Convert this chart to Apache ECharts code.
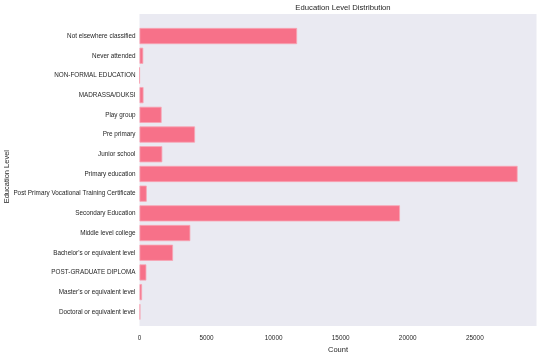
<!DOCTYPE html>
<html><head><meta charset="utf-8">
<script src="https://cdn.jsdelivr.net/npm/echarts@6/dist/echarts.min.js"></script>
<style>html,body{margin:0;padding:0;background:#fff}#c{width:541px;height:359px}</style>
</head><body><div id="c"></div>
<script>
const categories = ["Not elsewhere classified","Never attended","NON-FORMAL EDUCATION","MADRASSA/DUKSI","Play group","Pre primary","Junior school","Primary education","Post Primary Vocational Training Certificate","Secondary Education","Middle level college","Bachelor's or equivalent level","POST-GRADUATE DIPLOMA","Master's or equivalent level","Doctoral or equivalent level"];
const counts = [11750, 280, 10, 300, 1650, 4140, 1700, 28190, 540, 19420, 3790, 2500, 510, 190, 60];
const xMax = 29600;
const xTicks = [0, 5000, 10000, 15000, 20000, 25000];

const F = 'Liberation Sans, Arial, sans-serif';
const chart = echarts.init(document.getElementById('c'), null, {renderer:'canvas'});
chart.setOption({
  animation:false,
  title:{text:'Education Level Distribution', left:338, top:-1, textAlign:'center',
    textStyle:{fontFamily:F, fontSize:7.7, fontWeight:'normal', color:'#262626'}},
  grid:[
    {left:139.5, top:14, width:397, height:320, show:true, backgroundColor:'#EAEAF2', borderWidth:0},
    {left:139.5, top:26.2, width:397, height:295.5, show:false}
  ],
  xAxis:[
    {gridIndex:0, type:'value', min:0, max:xMax, interval:5000,
      axisLine:{show:false}, axisTick:{show:false}, splitLine:{show:false},
      axisLabel:{fontFamily:F, fontSize:6.4, color:'#262626', margin:9,
        formatter:v=> xTicks.includes(v)? String(v):''},
      name:'Count', nameLocation:'middle', nameGap:16,
      nameTextStyle:{fontFamily:F, fontSize:7.5, color:'#262626'}},
    {gridIndex:1, type:'value', min:0, max:xMax, show:false}
  ],
  yAxis:[
    {gridIndex:0, type:'value', min:0, max:1, show:false},
    {gridIndex:1, type:'category', data:categories, inverse:true,
      axisLine:{show:false}, axisTick:{show:false}, splitLine:{show:false},
      axisLabel:{fontFamily:F, fontSize:6.35, color:'#262626', margin:4}}
  ],
  graphic:[{type:'text', left:3, top:150, rotation:Math.PI/2,
    style:{text:'Education Level', font:'7.5px '+F, fill:'#262626'}}],
  series:[{type:'bar', xAxisIndex:1, yAxisIndex:1, data:counts, barWidth:'82%',
    itemStyle:{color:'#f77189', borderColor:'#f8a5b4', borderWidth:0.8}}]
});
</script></body></html>
